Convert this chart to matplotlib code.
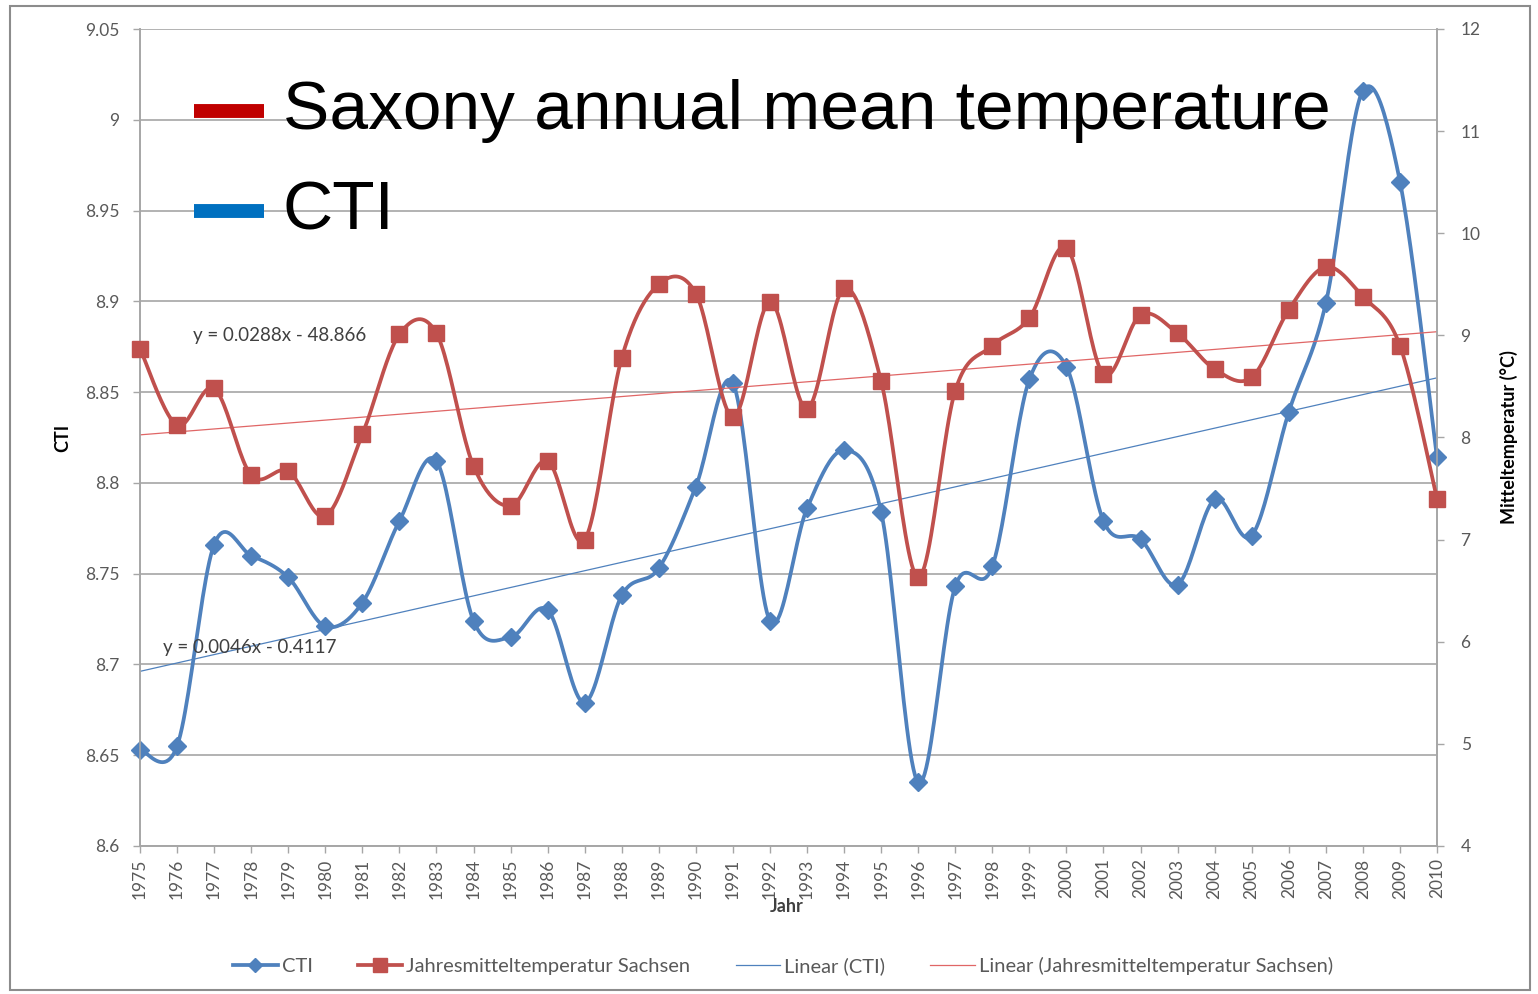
import numpy as np
import matplotlib.pyplot as plt
from matplotlib.lines import Line2D
from matplotlib.patches import Rectangle

# data
years = list(range(1975, 2011))
cti = [8.653, 8.655, 8.766, 8.760, 8.748, 8.721, 8.734, 8.779, 8.812, 8.724,
       8.715, 8.730, 8.679, 8.738, 8.753, 8.798, 8.855, 8.724, 8.786, 8.818,
       8.784, 8.635, 8.743, 8.754, 8.857, 8.864, 8.779, 8.769, 8.744, 8.791,
       8.771, 8.839, 8.899, 9.016, 8.966, 8.814]
temp = [8.87, 8.12, 8.48, 7.63, 7.67, 7.23, 8.03, 9.01, 9.02, 7.72,
        7.33, 7.77, 7.00, 8.78, 9.50, 9.41, 8.20, 9.33, 8.28, 9.46,
        8.55, 6.63, 8.46, 8.90, 9.17, 9.86, 8.62, 9.20, 9.02, 8.67,
        8.59, 9.25, 9.67, 9.38, 8.90, 7.40]
eq_temp = 'y = 0.0288x - 48.866'
eq_cti = 'y = 0.0046x - 0.4117'

blue = '#4F81BD'
red = '#C0504D'
grid_c = '#A6A6A6'
txt_c = '#595959'

plt.rcParams['font.family'] = ['Lato', 'DejaVu Sans']


def smooth(x, y, n=24):
    # Excel-style smoothed line (Bezier through the points)
    p = np.column_stack([x, y]).astype(float)
    P = np.vstack([p[0], p, p[-1]])
    segs = []
    t = np.linspace(0, 1, n)[:, None]
    for i in range(1, len(P) - 2):
        p0, p1, p2, p3 = P[i - 1], P[i], P[i + 1], P[i + 2]
        c1 = p1 + (p2 - p0) / 6
        c2 = p2 - (p3 - p1) / 6
        segs.append((1 - t)**3 * p1 + 3 * (1 - t)**2 * t * c1 + 3 * (1 - t) * t**2 * c2 + t**3 * p2)
    s = np.vstack(segs)
    return s[:, 0], s[:, 1]


fig = plt.figure(figsize=(15.38, 9.94), dpi=100)
fig.patches.append(Rectangle((10 / 1538, 4 / 994), 1520 / 1538, 984 / 994, transform=fig.transFigure,
                             fill=False, edgecolor='#8C8C8C', linewidth=1.5))
ax = fig.add_axes([140 / 1538, 1 - 846 / 994, 1297 / 1538, 817 / 994])
ax2 = ax.twinx()

x = np.array(years, dtype=float)

# trend lines
k1 = np.polyfit(x, cti, 1)
k2 = np.polyfit(x, temp, 1)
ax.plot(x, np.polyval(k1, x), color=blue, lw=0.9, zorder=2)
ax2.plot(x, np.polyval(k2, x), color='#E06666', lw=0.9, zorder=2)

sx, sy = smooth(x, cti)
ax.plot(sx, sy, color=blue, lw=2.7, zorder=3, clip_on=False)
ax.plot(x, cti, ls='none', marker='D', ms=9.5, color=blue, zorder=4, clip_on=False)

sx, sy = smooth(x, temp)
ax2.plot(sx, sy, color=red, lw=2.7, zorder=3, clip_on=False)
ax2.plot(x, temp, ls='none', marker='s', ms=11.5, color=red, zorder=4, clip_on=False)

ax.set_xlim(1975, 2010)
ax.set_ylim(8.6, 9.05)
ax2.set_ylim(4, 12)
ax.set_yticks(np.arange(8.6, 9.051, 0.05))
ax.set_yticklabels(['8.6', '8.65', '8.7', '8.75', '8.8', '8.85', '8.9', '8.95', '9', '9.05'])
ax2.set_yticks(range(4, 13))
ax.set_xticks(years)
ax.set_xticklabels([str(y) for y in years], rotation=90)
ax.grid(axis='y', color=grid_c, lw=1.2)
ax.set_axisbelow(True)

for a in (ax, ax2):
    a.spines['top'].set_visible(False)
    for s in ('left', 'right', 'bottom'):
        a.spines[s].set_color(grid_c)
        a.spines[s].set_linewidth(1.2)
    a.tick_params(colors=grid_c, labelcolor=txt_c, labelsize=12.5, length=5, width=1)
ax.tick_params(axis='y', pad=10)
ax2.tick_params(axis='y', pad=12)
ax.tick_params(axis='x', pad=4)

ax.set_ylabel('CTI', fontsize=13, fontweight='bold', color='black', labelpad=10)
ax2.set_ylabel('Mitteltemperatur (°C)', fontsize=13, fontweight='bold', color='black', labelpad=14)
fig.text(787 / 1538, 1 - 907 / 994, 'Jahr', fontsize=13, fontweight='bold', color='#404040',
         ha='center', va='center')

fig.text(193 / 1538, 1 - 336 / 994, eq_temp, fontsize=13.5, color='#404040', va='center')
fig.text(163 / 1538, 1 - 647 / 994, eq_cti, fontsize=13.5, color='#404040', va='center')

# big overlay legend
for yy, col, lab in [(111, '#C00000', 'Saxony annual mean temperature'), (211, '#0070C0', 'CTI')]:
    fig.add_artist(Line2D([194 / 1538, 264 / 1538], [1 - yy / 994, 1 - yy / 994],
                          transform=fig.transFigure, color=col, lw=10, solid_capstyle='butt'))
    fig.text(283 / 1538, 1 - yy / 994, lab, fontsize=50, color='black', va='center',
             family='Liberation Sans')

handles = [
    Line2D([], [], color=blue, lw=2.7, marker='D', ms=7),
    Line2D([], [], color=red, lw=2.7, marker='s', ms=10),
    Line2D([], [], color=blue, lw=0.9),
    Line2D([], [], color='#E06666', lw=0.9),
]
labels = ['CTI', 'Jahresmitteltemperatur Sachsen', 'Linear (CTI)', 'Linear (Jahresmitteltemperatur Sachsen)']
leg = fig.legend(handles, labels, loc='center', bbox_to_anchor=(783 / 1538, 1 - 966 / 994), ncol=4,
                 frameon=False, fontsize=14.5, handlelength=2.2, handletextpad=0.2, columnspacing=2.25)
for t in leg.get_texts():
    t.set_color(txt_c)

fig.savefig('out.png', dpi=100)
